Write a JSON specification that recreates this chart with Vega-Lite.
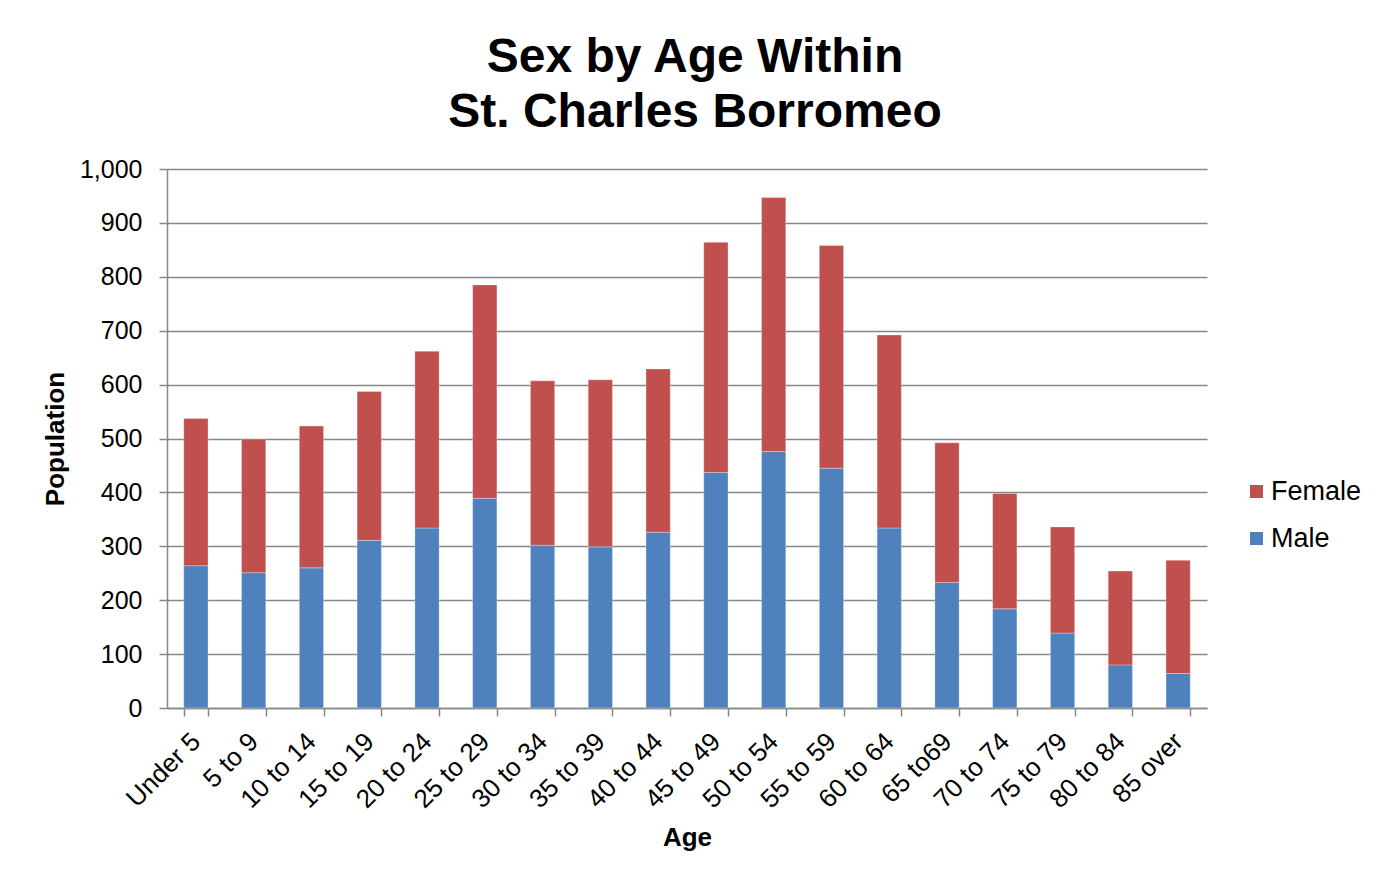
{
  "$schema": "https://vega.github.io/schema/vega-lite/v6.json",
  "width": 1040,
  "height": 539,
  "autosize": {"type": "none"},
  "padding": {"left": 167, "top": 169, "right": 179, "bottom": 174},
  "background": "white",
  "title": {
    "text": ["Sex by Age Within", "St. Charles Borromeo"],
    "font": "Liberation Sans",
    "fontSize": 48,
    "fontWeight": "bold",
    "lineHeight": 55,
    "color": "#000000",
    "anchor": "middle",
    "offset": 20,
    "dx": 8
  },
  "data": {
    "values": [
      {"age": "Under 5", "sex": "Male", "pop": 264},
      {"age": "Under 5", "sex": "Female", "pop": 273},
      {"age": "5 to 9", "sex": "Male", "pop": 251},
      {"age": "5 to 9", "sex": "Female", "pop": 248},
      {"age": "10 to 14", "sex": "Male", "pop": 260},
      {"age": "10 to 14", "sex": "Female", "pop": 263},
      {"age": "15 to 19", "sex": "Male", "pop": 311},
      {"age": "15 to 19", "sex": "Female", "pop": 276},
      {"age": "20 to 24", "sex": "Male", "pop": 334},
      {"age": "20 to 24", "sex": "Female", "pop": 328},
      {"age": "25 to 29", "sex": "Male", "pop": 389},
      {"age": "25 to 29", "sex": "Female", "pop": 396},
      {"age": "30 to 34", "sex": "Male", "pop": 302},
      {"age": "30 to 34", "sex": "Female", "pop": 305},
      {"age": "35 to 39", "sex": "Male", "pop": 299},
      {"age": "35 to 39", "sex": "Female", "pop": 310},
      {"age": "40 to 44", "sex": "Male", "pop": 326},
      {"age": "40 to 44", "sex": "Female", "pop": 303},
      {"age": "45 to 49", "sex": "Male", "pop": 437},
      {"age": "45 to 49", "sex": "Female", "pop": 427},
      {"age": "50 to 54", "sex": "Male", "pop": 476},
      {"age": "50 to 54", "sex": "Female", "pop": 471},
      {"age": "55 to 59", "sex": "Male", "pop": 445},
      {"age": "55 to 59", "sex": "Female", "pop": 413},
      {"age": "60 to 64", "sex": "Male", "pop": 334},
      {"age": "60 to 64", "sex": "Female", "pop": 358},
      {"age": "65 to69", "sex": "Male", "pop": 233},
      {"age": "65 to69", "sex": "Female", "pop": 259},
      {"age": "70 to 74", "sex": "Male", "pop": 184},
      {"age": "70 to 74", "sex": "Female", "pop": 214},
      {"age": "75 to 79", "sex": "Male", "pop": 139},
      {"age": "75 to 79", "sex": "Female", "pop": 197},
      {"age": "80 to 84", "sex": "Male", "pop": 80},
      {"age": "80 to 84", "sex": "Female", "pop": 174},
      {"age": "85 over", "sex": "Male", "pop": 64},
      {"age": "85 over", "sex": "Female", "pop": 210}
    ]
  },
  "mark": {"type": "bar", "stroke": "#ffffff", "strokeWidth": 0.5, "strokeOpacity": 0.6},
  "encoding": {
    "x": {
      "field": "age",
      "type": "nominal",
      "sort": null,
      "scale": {"paddingInner": 0.58, "paddingOuter": 0.29},
      "axis": {
        "title": "Age",
        "titleFont": "Liberation Sans",
        "titleFontSize": 26,
        "titleFontWeight": "bold",
        "titleColor": "#000000",
        "titlePadding": 12,
        "labelFont": "Liberation Sans",
        "labelFontSize": 26,
        "labelColor": "#000000",
        "labelAngle": -45,
        "labelAlign": "right",
        "labelBaseline": "middle",
        "labelPadding": 21,
        "tickBand": "extent",
        "tickSize": 8,
        "tickColor": "#878787",
        "tickWidth": 1.5,
        "domainColor": "#878787",
        "domainWidth": 1.5,
        "grid": false
      }
    },
    "y": {
      "field": "pop",
      "type": "quantitative",
      "stack": "zero",
      "scale": {"domain": [0, 1000], "nice": false},
      "axis": {
        "title": "Population",
        "titleFont": "Liberation Sans",
        "titleFontSize": 26,
        "titleFontWeight": "bold",
        "titleColor": "#000000",
        "titlePadding": 11,
        "values": [0, 100, 200, 300, 400, 500, 600, 700, 800, 900, 1000],
        "format": ",d",
        "labelFont": "Liberation Sans",
        "labelFontSize": 25,
        "labelColor": "#000000",
        "labelPadding": 17,
        "tickSize": 8,
        "tickColor": "#878787",
        "tickWidth": 1.5,
        "domainColor": "#878787",
        "domainWidth": 1.5,
        "grid": true,
        "gridColor": "#878787",
        "gridWidth": 1.5
      }
    },
    "color": {
      "field": "sex",
      "type": "nominal",
      "scale": {"domain": ["Female", "Male"], "range": ["#C0504D", "#4F81BD"]},
      "legend": {
        "title": null,
        "orient": "none",
        "legendX": 1076,
        "legendY": 309,
        "symbolType": "square",
        "symbolSize": 169,
        "symbolStrokeWidth": 0,
        "labelFont": "Liberation Sans",
        "labelFontSize": 27,
        "labelColor": "#000000",
        "labelOffset": 1,
        "rowPadding": 19
      }
    },
    "order": {"field": "sex", "sort": "descending"}
  },
  "config": {"view": {"stroke": null}}
}
